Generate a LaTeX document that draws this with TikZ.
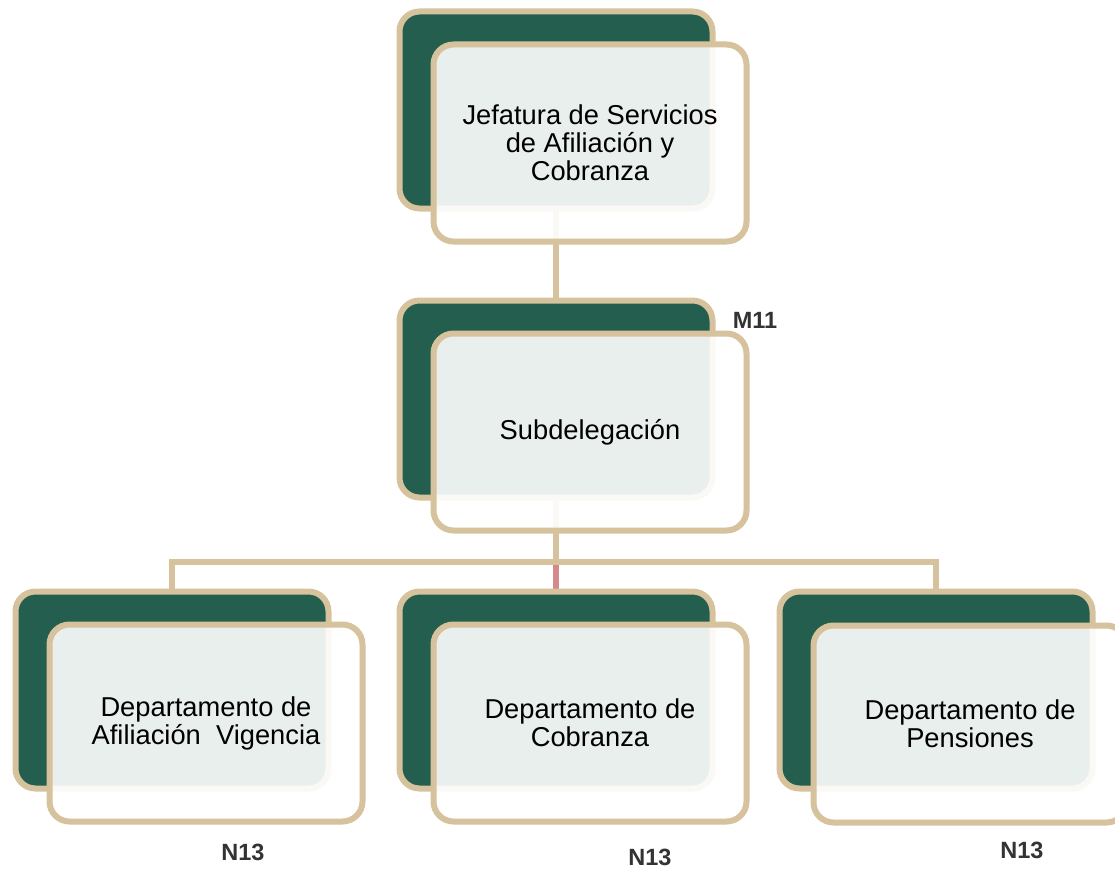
\documentclass[tikz,border=0pt]{standalone}
\usepackage{fontspec}
\setmainfont{Liberation Sans}
\usetikzlibrary{positioning, backgrounds}

\definecolor{tanline}{RGB}{214,194,156}
\definecolor{darkgreen}{RGB}{35,94,78}
\definecolor{pinkline}{RGB}{212,137,140}
\definecolor{labelgray}{RGB}{51,51,51}

\begin{document}
\begin{tikzpicture}[
        x=1pt, y=1pt,
        font=\fontsize{27.3}{28}\selectfont,
        % Styles
        back_box/.style={draw=tanline, fill=darkgreen, line width=6pt, rounded corners=20pt, minimum width=313pt, minimum height=197pt},
        front_box/.style={draw=tanline, fill=white, fill opacity=0.9, text opacity=1, line width=6pt, rounded corners=20pt, minimum width=313pt, minimum height=197pt, align=center},
        link/.style={draw=tanline, line width=6pt},
        red_link/.style={draw=pinkline, line width=6pt},
        level/.style={font=\fontsize{23.5}{24}\selectfont\bfseries, text=labelgray, inner sep=0pt}
    ]
    \clip (0,0) rectangle (1115,-872);

    % Back boxes
    \node[back_box] (jefatura) at (556,-110) {};
    \node[back_box, below=86pt of jefatura] (subdel) {};
    \node[back_box, below=88pt of subdel] (cobranza) {};
    \node[back_box, left=65pt of cobranza] (afiliacion) {};
    \node[back_box, right=61pt of cobranza] (pensiones) {};

    % Front boxes with the texts
    \node[front_box] (jefatura_f) at ([xshift=34pt, yshift=-33pt]jefatura.center) {Jefatura de Servicios\\de Afiliación y\\Cobranza};
    \node[front_box] (subdel_f) at ([xshift=34pt, yshift=-33pt]subdel.center) {Subdelegación};
    \node[front_box] (afiliacion_f) at ([xshift=34pt, yshift=-33pt]afiliacion.center) {Departamento de\\Afiliación\ \ Vigencia};
    \node[front_box] (cobranza_f) at ([xshift=34pt, yshift=-33pt]cobranza.center) {Departamento de\\Cobranza};
    \node[front_box] (pensiones_f) at ([xshift=34pt, yshift=-34pt]pensiones.center) {Departamento de\\Pensiones};

    % Levels
    \node[level] (m11) at (755,-320) {M11};
    \node[level] (n13_a) at (243,-852) {N13};
    \node[level] (n13_b) at (650,-857) {N13};
    \node[level] (n13_c) at (1022,-850) {N13};

    % Connectors
    \begin{scope}[on background layer]
        \coordinate (bus) at (556,-561.5);
        \draw[red_link] (bus) -- (cobranza.center);
        \draw[link] (jefatura.center) -- (subdel.center);
        \draw[link] (subdel.center) -- (bus);
        \draw[link] (afiliacion.center) |- (bus) -| (pensiones.center);
    \end{scope}

\end{tikzpicture}
\end{document}
